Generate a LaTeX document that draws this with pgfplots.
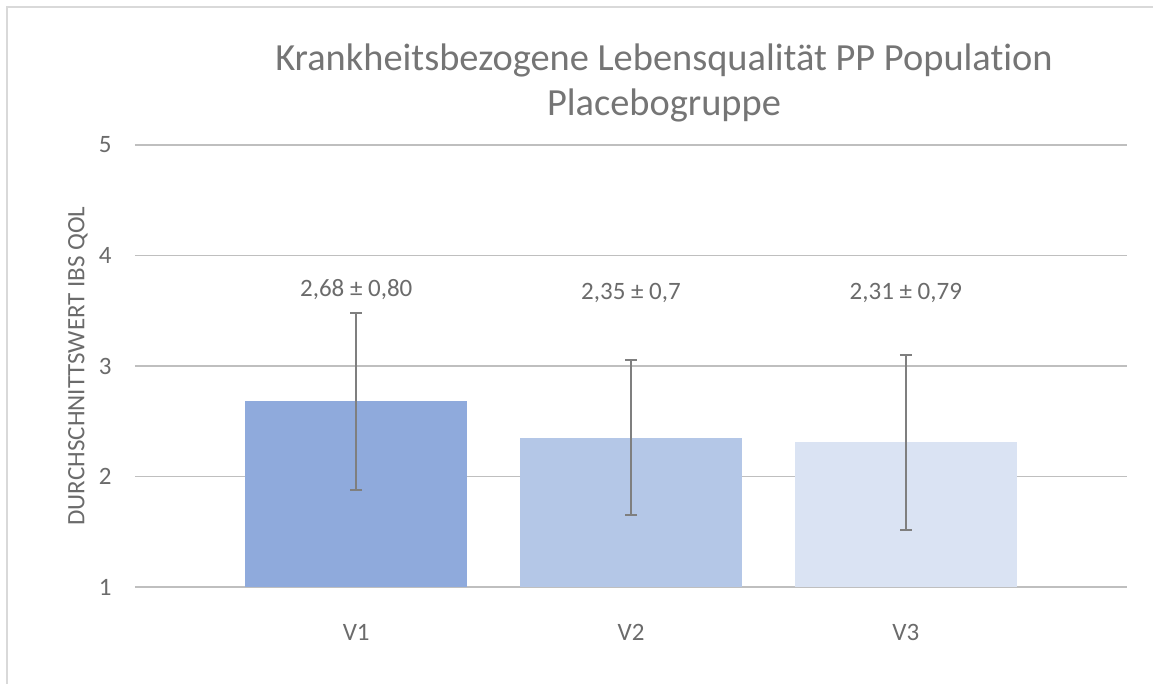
\documentclass[border=0pt]{standalone}
\usepackage{fontspec}
\setmainfont[Ligatures=NoCommon]{Carlito}
\usepackage{pgfplots}
\pgfplotsset{compat=1.18}

\definecolor{txt}{HTML}{6B6B6B}
\definecolor{ttl}{HTML}{757575}
\definecolor{grid}{HTML}{D9D9D9}
\definecolor{errc}{HTML}{7F7F7F}
\definecolor{barA}{HTML}{8FAADC}
\definecolor{barB}{HTML}{B4C7E7}
\definecolor{barC}{HTML}{DAE3F3}

\pgfplotsset{
  qolbar/.style={
    ybar, bar width=0.809, bar shift=0pt, draw=none, fill=#1,
    error bars/.cd,
      y dir=both, y explicit,
      error bar style={errc, line width=1pt},
      error mark options={rotate=90, mark size=3pt, line width=1pt, errc},
  },
}

\begin{document}
\begin{tikzpicture}[x=1pt, y=1pt]
\useasboundingbox (-67.5,-48.5) rectangle (509,293.5);
% chart border (only left and top visible)
\draw[grid, line width=0.8pt] (-64,-60) -- (-64,290) -- (520,290);

\begin{axis}[
    at={(0pt,0pt)}, anchor=south west,
    scale only axis,
    width=496pt, height=221pt,
    xmin=-0.805, xmax=2.805,
    ymin=1, ymax=5,
    xtick={0,1,2},
    xticklabels={V1,V2,V3},
    ytick={1,2,3,4,5},
    ymajorgrids, xmajorgrids=false,
    grid style={grid, line width=0.8pt},
    axis line style={draw=none},
    major tick length=0pt,
    xtick style={draw=none}, ytick style={draw=none},
    tick label style={font=\fontsize{12.5}{14}\selectfont, text=txt},
    /pgf/number format/assume math mode=true,
    yticklabel style={inner sep=0pt, xshift=-11.5pt},
    xticklabel style={inner sep=0pt, yshift=-18.5pt},
]
\addplot[qolbar=barA] coordinates {(0,2.68) +- (0,0.80)};
\addplot[qolbar=barB] coordinates {(1,2.35) +- (0,0.70)};
\addplot[qolbar=barC] coordinates {(2,2.31) +- (0,0.79)};

\node[text=txt, font=\fontsize{12.5}{14}\selectfont] at (axis cs:0,3.69) {2,68 ± 0,80};
\node[text=txt, font=\fontsize{12.5}{14}\selectfont] at (axis cs:1,3.66) {2,35 ± 0,7};
\node[text=txt, font=\fontsize{12.5}{14}\selectfont] at (axis cs:2,3.66) {2,31 ± 0,79};
\end{axis}

\node[text=ttl, align=center, font=\fontsize{19.2}{22.5}\selectfont] at (264.5,252.25)
    {Krankheitsbezogene Lebensqualität PP Population\\Placebogruppe};
\node[text=txt, rotate=90, font=\fontsize{12.5}{14}\selectfont] at (-28.5,110.5)
    {DURCHSCHNITTSWERT IBS QOL};
\end{tikzpicture}
\end{document}
